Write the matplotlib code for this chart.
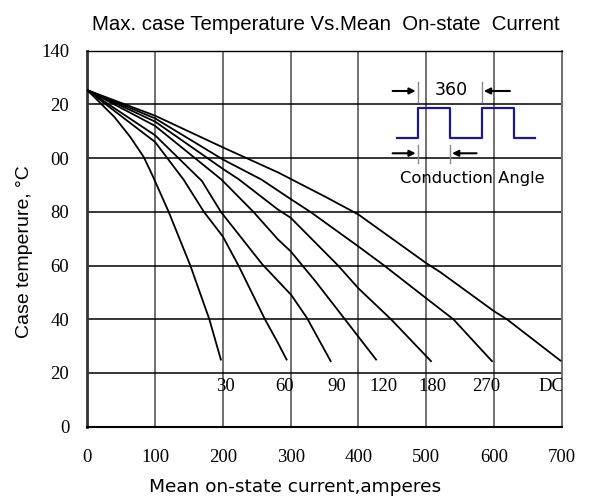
import numpy as np
import matplotlib
matplotlib.use('Agg')
import matplotlib.pyplot as plt
from matplotlib.patches import Rectangle

# curve data (current in A, case temperature in C)
x_30 = [0, 40, 63, 83, 91, 98, 120, 152, 180, 197]
y_30 = [125.3, 115.3, 108, 100.5, 96.3, 92.5, 80, 60, 40, 25]
x_60 = [0, 100, 142, 172, 200, 223, 262, 281, 294]
y_60 = [125.3, 106, 92, 80, 70.8, 60, 40, 31.3, 25]
x_90 = [0, 100, 169, 197, 258, 301, 324, 359]
y_90 = [125.3, 108.5, 91.5, 80, 60.5, 49, 40.5, 24.4]
x_120 = [0, 100, 198, 245, 281, 300, 337, 380, 426]
y_120 = [125.3, 112, 92, 80, 69.8, 65.3, 54, 40, 25]
x_180 = [0, 100, 200, 223, 281, 300, 370, 400, 448, 507]
y_180 = [125.3, 113.6, 96, 92.2, 80.9, 77.8, 60, 51.5, 40, 24.4]
x_270 = [0, 100, 200, 257, 301, 329, 400, 438, 499, 540, 597]
y_270 = [125.3, 114.8, 99.5, 92, 84.6, 80, 67.1, 60, 48, 40, 24.4]
x_dc = [0, 100, 200, 282, 352, 400, 500, 521, 600, 619, 698]
y_dc = [125.3, 115.8, 104, 94.6, 85.5, 79, 60.9, 57.5, 43, 40, 24.6]

curve_names = ['30', '60', '90', '120', '180', '270', 'DC']
name_x = [203.5, 291, 368, 436.5, 508.5, 588, 684.5]
name_y = 15

x_ticks = [0, 100, 200, 300, 400, 500, 600, 700]
x_ticklabels = ['0', '100', '200', '300', '400', '500', '600', '700']
y_ticks = [0, 20, 40, 60, 80, 100, 120, 140]
y_ticklabels = ['0', '20', '40', '60', '80', '00', '20', '140']

SERIF = 'Liberation Serif'
SANS = 'DejaVu Sans'

fig = plt.figure(figsize=(5.92, 5.0), dpi=100)
ax = fig.add_axes([0.1475, 0.1466, 0.8015, 0.752])

curves = [(x_30, y_30), (x_60, y_60), (x_90, y_90), (x_120, y_120),
          (x_180, y_180), (x_270, y_270), (x_dc, y_dc)]
for xs, ys in curves:
    ax.plot(xs, ys, color='black', lw=1.3, zorder=3, solid_joinstyle='round')

for name, nx in zip(curve_names, name_x):
    ax.text(nx, name_y, name, ha='center', va='center', fontsize=13.5,
            family=SERIF, clip_on=True, zorder=4)

ax.set_xlim(0, 700)
ax.set_ylim(0, 140)
ax.set_xticks(x_ticks)
ax.set_xticklabels(x_ticklabels, family=SERIF, fontsize=13.5)
ax.set_yticks(y_ticks)
ax.set_yticklabels(y_ticklabels, family=SERIF, fontsize=13.5)
ax.tick_params(axis='x', length=0, pad=16)
ax.tick_params(axis='y', length=0, pad=13)

ax.xaxis.grid(True, color='#707070', lw=1.4)
ax.yaxis.grid(True, color='black', lw=1.1)

ax.spines['left'].set_color('#333333')
ax.spines['left'].set_linewidth(2)
ax.spines['bottom'].set_color('black')
ax.spines['bottom'].set_linewidth(1.5)
ax.spines['top'].set_color('black')
ax.spines['top'].set_linewidth(1)
ax.spines['right'].set_color('#707070')
ax.spines['right'].set_linewidth(1.4)

# conduction angle sketch
ax.add_patch(Rectangle((440.6, 83.3), 242, 51.4, facecolor='white',
                       edgecolor='none', zorder=1.5))
wave_x = [457, 487.3, 487.3, 535, 535, 581.7, 581.7, 629.6, 629.6, 660.6]
wave_y = [107.4, 107.4, 118.5, 118.5, 107.4, 107.4, 118.5, 118.5, 107.4, 107.4]
ax.plot(wave_x, wave_y, color='#1a1a8a', lw=1.6, zorder=3)
for tx in [487.3, 581.7]:
    ax.plot([tx, tx], [121.0, 128.4], color='#888888', lw=1, zorder=3)
for tx in [487.3, 535]:
    ax.plot([tx, tx], [98.1, 104.9], color='#888888', lw=1, zorder=3)
arrows = [((450.4, 125.0), (484.5, 125.0)), ((623.5, 125.0), (585.0, 125.0)),
          ((450.4, 101.8), (484.5, 101.8)), ((574.3, 101.8), (538.0, 101.8))]
for start, end in arrows:
    ax.annotate('', xy=end, xytext=start,
                arrowprops=dict(arrowstyle='-|>', color='black', lw=1.5,
                                mutation_scale=9, shrinkA=0, shrinkB=0),
                zorder=4)
ax.text(537.5, 125.4, '360', ha='center', va='center', fontsize=12.5,
        family=SANS, zorder=4)
ax.text(568.4, 92.5, 'Conduction Angle', ha='center', va='center',
        fontsize=11.8, family=SANS, zorder=4)

fig.text(326 / 592, 1 - 24 / 500,
         'Max. case Temperature Vs.Mean  On-state  Current',
         ha='center', va='center', fontsize=14.7, family='Liberation Sans')
fig.text(25 / 592, 1 - 252 / 500, 'Case temperure, °C', rotation=90,
         ha='center', va='center', fontsize=14, family='Liberation Sans')
fig.text(295 / 592, 1 - 487 / 500, 'Mean on-state current,amperes',
         ha='center', va='center', fontsize=13.3, family=SANS)

fig.savefig('out.png', dpi=100)
